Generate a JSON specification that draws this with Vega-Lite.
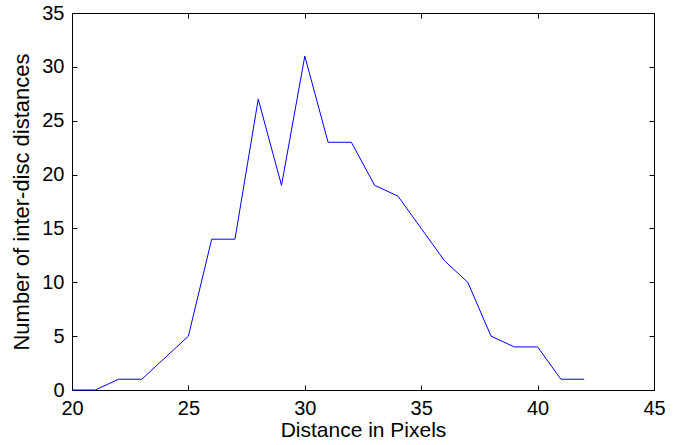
{
  "$schema": "https://vega.github.io/schema/vega-lite/v6.json",
  "width": 582,
  "height": 377,
  "autosize": {"type": "none"},
  "padding": {"left": 72, "top": 13, "right": 41, "bottom": 55},
  "background": "white",
  "config": {
    "view": {"stroke": "black", "strokeWidth": 1},
    "axis": {
      "grid": false,
      "domainColor": "black",
      "tickColor": "black",
      "tickSize": -5,
      "labelFont": "Liberation Sans",
      "titleFont": "Liberation Sans",
      "labelFontSize": 20,
      "titleFontSize": 21,
      "labelColor": "black",
      "titleColor": "black",
      "titleFontWeight": "normal"
    }
  },
  "data": {"values": [
    {"d": 20, "n": 0}, {"d": 21, "n": 0}, {"d": 22, "n": 1}, {"d": 23, "n": 1},
    {"d": 24, "n": 3}, {"d": 25, "n": 5}, {"d": 26, "n": 14}, {"d": 27, "n": 14},
    {"d": 28, "n": 27}, {"d": 29, "n": 19}, {"d": 30, "n": 31}, {"d": 31, "n": 23},
    {"d": 32, "n": 23}, {"d": 33, "n": 19}, {"d": 34, "n": 18}, {"d": 35, "n": 15},
    {"d": 36, "n": 12}, {"d": 37, "n": 10}, {"d": 38, "n": 5}, {"d": 39, "n": 4},
    {"d": 40, "n": 4}, {"d": 41, "n": 1}, {"d": 42, "n": 1}
  ]},
  "layer": [
    {
      "mark": {"type": "line", "color": "#0000FF", "strokeWidth": 1},
      "encoding": {
        "x": {"field": "d", "type": "quantitative", "scale": {"domain": [20, 45], "nice": false, "zero": false},
              "axis": {"title": "Distance in Pixels", "values": [20, 25, 30, 35, 40, 45], "labelPadding": 13, "titlePadding": 1, "labelFlush": false}},
        "y": {"field": "n", "type": "quantitative", "scale": {"domain": [0, 35], "nice": false},
              "axis": {"title": "Number of inter-disc distances", "titleFontSize": 22, "values": [0, 5, 10, 15, 20, 25, 30, 35], "labelPadding": 13, "titlePadding": 8, "labelFlush": false}}
      }
    },
    {
      "mark": {"type": "line", "opacity": 0},
      "encoding": {
        "x": {"field": "d", "type": "quantitative", "scale": {"domain": [20, 45], "nice": false, "zero": false},
              "axis": {"orient": "top", "title": null, "labels": false, "values": [20, 25, 30, 35, 40, 45]}},
        "y": {"field": "n", "type": "quantitative", "scale": {"domain": [0, 35], "nice": false},
              "axis": {"orient": "right", "title": null, "labels": false, "values": [0, 5, 10, 15, 20, 25, 30, 35]}}
      }
    }
  ],
  "resolve": {"axis": {"x": "independent", "y": "independent"}}
}
